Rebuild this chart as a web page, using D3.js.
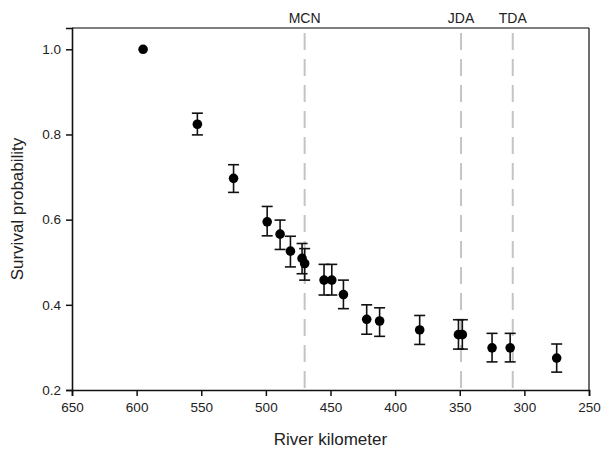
<!DOCTYPE html>
<html>
<head>
<meta charset="utf-8">
<script src="https://cdn.jsdelivr.net/npm/d3@7"></script>
<style>
  html, body { margin: 0; padding: 0; background: #fff; }
  svg { display: block; font-family: "Liberation Sans", Arial, sans-serif; }
</style>
</head>
<body>
<svg id="chart" width="602" height="449"></svg>
<script>
// River kilometer of each detection site
const riverKm = [595, 553, 525, 499, 489, 481, 472, 470, 455, 449, 440, 422, 412, 381, 351, 348, 325, 311, 275];
// Cumulative survival probability estimates
const survival = [1.0, 0.824, 0.697, 0.595, 0.566, 0.526, 0.509, 0.497, 0.458, 0.458, 0.424, 0.366, 0.362, 0.341, 0.330, 0.330, 0.299, 0.299, 0.275];
// Lower and upper confidence limits (null where no interval)
const lower = [null, 0.799, 0.664, 0.562, 0.530, 0.489, 0.473, 0.458, 0.423, 0.423, 0.391, 0.331, 0.326, 0.307, 0.296, 0.296, 0.266, 0.266, 0.242];
const upper = [null, 0.850, 0.729, 0.631, 0.599, 0.561, 0.544, 0.532, 0.495, 0.495, 0.458, 0.400, 0.393, 0.375, 0.365, 0.365, 0.333, 0.333, 0.308];
// Dams along the river
const damNames = ["MCN", "JDA", "TDA"];
const damKm = [470, 349, 309];
// Axis ticks
const xTicks = [650, 600, 550, 500, 450, 400, 350, 300, 250];
const yTicks = [0.2, 0.4, 0.6, 0.8, 1.0];

const svg = d3.select("#chart");
const margin = { top: 28, right: 13, bottom: 59, left: 72 };
const W = 602, H = 449;
const iw = W - margin.left - margin.right;
const ih = H - margin.top - margin.bottom;

const x = d3.scaleLinear().domain([650, 250]).range([0, iw]);
const y = d3.scaleLinear().domain([0.2, 1.05]).range([ih, 0]);

const g = svg.append("g").attr("transform", `translate(${margin.left},${margin.top})`);

// Dam reference lines
g.selectAll("line.dam").data(damKm).join("line")
  .attr("class", "dam")
  .attr("x1", d => x(d)).attr("x2", d => x(d))
  .attr("y1", 5).attr("y2", ih)
  .attr("stroke", "#c4c4c4").attr("stroke-width", 2)
  .attr("stroke-dasharray", "17,9");

g.selectAll("text.dam").data(damNames).join("text")
  .attr("class", "dam")
  .attr("x", (d, i) => x(damKm[i]))
  .attr("y", -5)
  .attr("text-anchor", "middle")
  .attr("font-size", 14)
  .attr("fill", "#222")
  .text(d => d);

// Frame (top and right)
g.append("line").attr("x1", 0).attr("x2", iw).attr("y1", 0).attr("y2", 0)
  .attr("stroke", "#555").attr("stroke-width", 1.3);
g.append("line").attr("x1", iw).attr("x2", iw).attr("y1", 0).attr("y2", ih)
  .attr("stroke", "#222").attr("stroke-width", 1.3);

// Axes
const xAxis = g.append("g").attr("transform", `translate(0,${ih})`)
  .call(d3.axisBottom(x).tickValues(xTicks).tickFormat(d3.format("d")).tickSize(6).tickPadding(6));
const yAxis = g.append("g")
  .call(d3.axisLeft(y).tickValues(yTicks).tickFormat(d3.format(".1f")).tickSize(6).tickPadding(5));

[xAxis, yAxis].forEach(a => {
  a.select(".domain").attr("stroke", "#111").attr("stroke-width", 1.6);
  a.selectAll(".tick line").attr("stroke", "#111").attr("stroke-width", 1.5);
  a.selectAll(".tick text").attr("font-size", 13.5).attr("fill", "#222")
    .attr("font-family", "'Liberation Sans', Arial, sans-serif");
});

// Axis titles
svg.append("text")
  .attr("x", margin.left + iw / 2).attr("y", 445)
  .attr("text-anchor", "middle").attr("font-size", 17).attr("fill", "#222")
  .text("River kilometer");
svg.append("text")
  .attr("transform", `translate(23,${margin.top + ih / 2}) rotate(-90)`)
  .attr("text-anchor", "middle").attr("font-size", 17).attr("fill", "#222")
  .text("Survival probability");

// Error bars
const pts = riverKm.map((k, i) => ({ k, v: survival[i], lo: lower[i], hi: upper[i] }));
const withCI = pts.filter(d => d.lo !== null);
const cap = 5.5;
const eb = g.append("g").attr("stroke", "#111").attr("stroke-width", 1.6);
eb.selectAll("line.v").data(withCI).join("line")
  .attr("x1", d => x(d.k)).attr("x2", d => x(d.k))
  .attr("y1", d => y(d.lo)).attr("y2", d => y(d.hi));
eb.selectAll("line.hi").data(withCI).join("line")
  .attr("x1", d => x(d.k) - cap).attr("x2", d => x(d.k) + cap)
  .attr("y1", d => y(d.hi)).attr("y2", d => y(d.hi));
eb.selectAll("line.lo").data(withCI).join("line")
  .attr("x1", d => x(d.k) - cap).attr("x2", d => x(d.k) + cap)
  .attr("y1", d => y(d.lo)).attr("y2", d => y(d.lo));

// Points
g.selectAll("circle.pt").data(pts).join("circle")
  .attr("class", "pt")
  .attr("cx", d => x(d.k)).attr("cy", d => y(d.v))
  .attr("r", 4.8).attr("fill", "#000");
</script>
</body>
</html>
